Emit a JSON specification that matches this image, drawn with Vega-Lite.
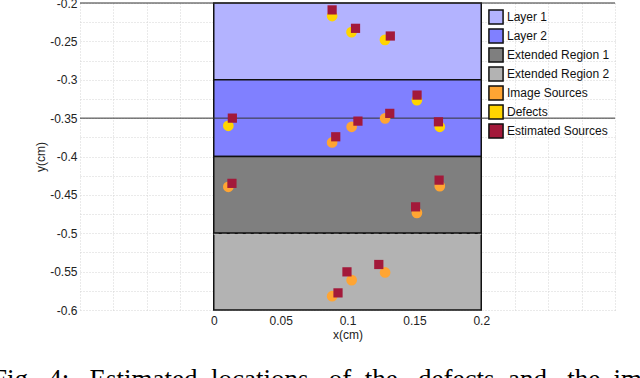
{
  "$schema": "https://vega.github.io/schema/vega-lite/v6.json",
  "width": 535,
  "height": 307,
  "autosize": "none",
  "padding": {"left": 80, "top": 3, "right": 25, "bottom": 68},
  "background": "white",
  "config": {
    "view": {"stroke": null},
    "font": "Liberation Sans",
    "axis": {"labelFont": "Liberation Sans", "titleFont": "Liberation Sans", "labelColor": "#222", "titleColor": "#222", "labelFontSize": 12, "titleFontSize": 12, "titleFontWeight": "normal"},
    "legend": {"rowPadding": -6, "symbolSize": 200, "symbolStrokeWidth": 1.5}
  },
  "title": {
    "text": "Fig.\u00a0\u00a04:\u00a0\u00a0\u00a0Estimated\u00a0\u00a0locations\u00a0\u00a0\u00a0of\u00a0\u00a0the\u00a0\u00a0\u00a0defects\u00a0\u00a0and\u00a0\u00a0\u00a0the\u00a0\u00a0im",
    "orient": "bottom", "anchor": "start", "frame": "group",
    "dx": -88, "offset": 48, "font": "Liberation Serif", "fontSize": 27,
    "fontWeight": "normal", "color": "#000", "baseline": "alphabetic"
  },
  "datasets": {
    "regions": [
      {"name": "Layer 1", "x0": 0, "x1": 0.2, "y0": -0.3, "y1": -0.2},
      {"name": "Layer 2", "x0": 0, "x1": 0.2, "y0": -0.4, "y1": -0.3},
      {"name": "Extended Region 1", "x0": 0, "x1": 0.2, "y0": -0.5, "y1": -0.4},
      {"name": "Extended Region 2", "x0": 0, "x1": 0.2, "y0": -0.6, "y1": -0.5}
    ],
    "points": [
      {"name": "Defects", "x": 0.0885, "y": -0.217},
      {"name": "Defects", "x": 0.103, "y": -0.238},
      {"name": "Defects", "x": 0.128, "y": -0.248},
      {"name": "Defects", "x": 0.0109, "y": -0.36},
      {"name": "Defects", "x": 0.1519, "y": -0.3265},
      {"name": "Defects", "x": 0.169, "y": -0.3613},
      {"name": "Image Sources", "x": 0.0885, "y": -0.3817},
      {"name": "Image Sources", "x": 0.1031, "y": -0.3613},
      {"name": "Image Sources", "x": 0.1281, "y": -0.3503},
      {"name": "Image Sources", "x": 0.0109, "y": -0.4395},
      {"name": "Image Sources", "x": 0.169, "y": -0.4386},
      {"name": "Image Sources", "x": 0.1519, "y": -0.4734},
      {"name": "Image Sources", "x": 0.1281, "y": -0.5511},
      {"name": "Image Sources", "x": 0.1031, "y": -0.5611},
      {"name": "Image Sources", "x": 0.0885, "y": -0.582},
      {"name": "Estimated Sources", "x": 0.0885, "y": -0.209},
      {"name": "Estimated Sources", "x": 0.106, "y": -0.233},
      {"name": "Estimated Sources", "x": 0.132, "y": -0.243},
      {"name": "Estimated Sources", "x": 0.0139, "y": -0.35},
      {"name": "Estimated Sources", "x": 0.0912, "y": -0.3743},
      {"name": "Estimated Sources", "x": 0.1078, "y": -0.3539},
      {"name": "Estimated Sources", "x": 0.1316, "y": -0.3438},
      {"name": "Estimated Sources", "x": 0.152, "y": -0.32},
      {"name": "Estimated Sources", "x": 0.168, "y": -0.3548},
      {"name": "Estimated Sources", "x": 0.0136, "y": -0.435},
      {"name": "Estimated Sources", "x": 0.1685, "y": -0.4308},
      {"name": "Estimated Sources", "x": 0.1509, "y": -0.4656},
      {"name": "Estimated Sources", "x": 0.1234, "y": -0.5407},
      {"name": "Estimated Sources", "x": 0.0996, "y": -0.5503},
      {"name": "Estimated Sources", "x": 0.0929, "y": -0.5777}
    ],
    "hlines": [
      {"y": -0.2},
      {"y": -0.35}
    ],
    "dash": [{"x0": 0, "x1": 0.2, "y": -0.5}]
  },
  "resolve": {"axis": {"x": "independent", "y": "independent"}},
  "layer": [
    {
      "data": {"name": "regions"},
      "mark": {"type": "rect", "stroke": "#111", "strokeWidth": 1.5},
      "encoding": {
        "x": {"field": "x0", "type": "quantitative", "scale": {"domain": [-0.1, 0.3], "nice": false, "zero": false},
              "axis": {"orient": "bottom", "values": [-0.1, -0.075, -0.05, -0.025, 0, 0.025, 0.05, 0.075, 0.1, 0.125, 0.15, 0.175, 0.2, 0.225, 0.25, 0.275, 0.3], "labels": false, "ticks": false, "domain": false, "title": null, "grid": true, "gridColor": "#d4d4d4", "gridDash": [1, 2], "gridWidth": 1}},
        "x2": {"field": "x1"},
        "y": {"field": "y0", "type": "quantitative", "scale": {"domain": [-0.6, -0.2], "nice": false, "zero": false},
              "axis": {"orient": "left", "values": [-0.6, -0.575, -0.55, -0.525, -0.5, -0.475, -0.45, -0.425, -0.4, -0.375, -0.35, -0.325, -0.3, -0.275, -0.25, -0.225, -0.2], "labels": false, "ticks": false, "domain": false, "title": null, "grid": true, "gridColor": "#d4d4d4", "gridDash": [1, 2], "gridWidth": 1}},
        "y2": {"field": "y1"},
        "color": {
          "field": "name", "type": "nominal",
          "scale": {
            "domain": ["Layer 1", "Layer 2", "Extended Region 1", "Extended Region 2", "Image Sources", "Defects", "Estimated Sources"],
            "range": ["#b3b3ff", "#8080ff", "#7f7f7f", "#b3b3b3", "#ffa533", "#ffd500", "#a3193a"]
          },
          "legend": {
            "title": null, "orient": "none", "legendX": 408, "legendY": 6, "padding": 0,
            "labelFont": "Liberation Sans", "labelFontSize": 12, "labelColor": "#111",
            "symbolSize": 200, "labelOffset": 3, "rowPadding": -6,
            "encode": {
              "symbols": {
                "shape": {"value": {"expr": "datum.value == 'Image Sources' || datum.value == 'Defects' ? 'circle' : (datum.value == 'Estimated Sources' ? 'square' : 'M-1.2,-0.75H1.2V0.75H-1.2Z')"}},
                "size": {"value": {"expr": "datum.value == 'Image Sources' || datum.value == 'Defects' ? 110 : (datum.value == 'Estimated Sources' ? 45 : 200)"}},
                "stroke": {"value": {"expr": "datum.value == 'Image Sources' || datum.value == 'Defects' || datum.value == 'Estimated Sources' ? 'transparent' : '#222'"}}
              }
            }
          }
        }
      }
    },
    {
      "data": {"name": "hlines"},
      "mark": {"type": "rule", "strokeWidth": 1, "color": "#333"},
      "encoding": {
        "y": {"field": "y", "type": "quantitative", "axis": null}
      }
    },
    {
      "data": {"name": "dash"},
      "mark": {"type": "rule", "strokeWidth": 1, "strokeDash": [5, 3], "color": "#bdbdbd", "yOffset": 1},
      "encoding": {
        "x": {"field": "x0", "type": "quantitative", "axis": null},
        "x2": {"field": "x1"},
        "y": {"field": "y", "type": "quantitative", "axis": null}
      }
    },
    {
      "data": {"name": "points"},
      "transform": [{"filter": "datum.name != 'Estimated Sources'"}],
      "mark": {"type": "circle", "size": 115, "opacity": 1},
      "encoding": {
        "x": {"field": "x", "type": "quantitative",
              "axis": {"orient": "bottom", "values": [0, 0.05, 0.1, 0.15, 0.2], "labelExpr": "toString(datum.value)", "ticks": false, "domain": false, "grid": false, "labelPadding": 5, "title": "x(cm)", "titlePadding": 3}},
        "y": {"field": "y", "type": "quantitative",
              "axis": {"orient": "left", "values": [-0.6, -0.55, -0.5, -0.45, -0.4, -0.35, -0.3, -0.25, -0.2], "labelExpr": "toString(datum.value)", "ticks": false, "domain": false, "grid": false, "labelPadding": 3, "title": "y(cm)", "titlePadding": 2}},
        "color": {"field": "name", "type": "nominal", "legend": null}
      }
    },
    {
      "data": {"name": "points"},
      "transform": [{"filter": "datum.name == 'Estimated Sources'"}],
      "mark": {"type": "square", "size": 85, "opacity": 1},
      "encoding": {
        "x": {"field": "x", "type": "quantitative", "axis": null},
        "y": {"field": "y", "type": "quantitative", "axis": null},
        "color": {"field": "name", "type": "nominal", "legend": null}
      }
    }
  ]
}
